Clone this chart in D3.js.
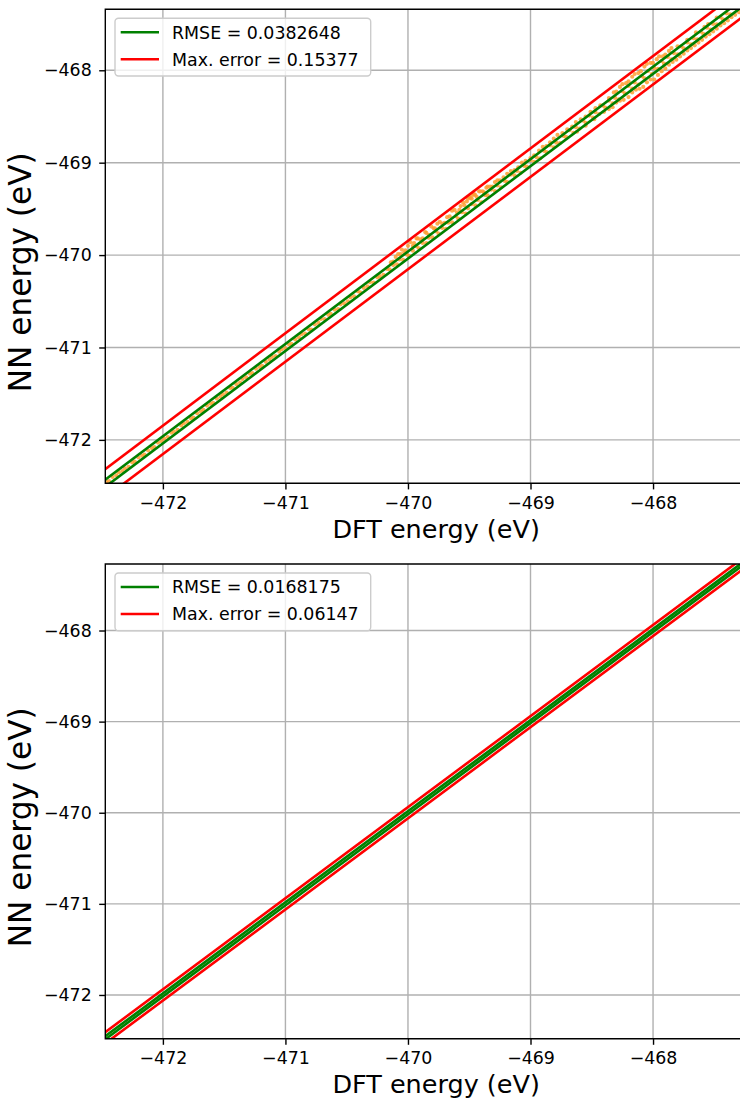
<!DOCTYPE html>
<html>
<head>
<meta charset="utf-8">
<script src="https://cdn.jsdelivr.net/npm/d3@7"></script>
<style>
  html, body { margin: 0; padding: 0; background: #fff; }
  svg { display: block; }
  text { font-family: "DejaVu Sans", sans-serif; fill: #000; }
</style>
</head>
<body>
<svg id="chart" width="740" height="1101"></svg>
<script>
// Energy-parity plots: NN-predicted vs DFT energies with RMSE and max-error bands.

const xTicks = [-472, -471, -470, -469, -468];
const yTicks = [-472, -471, -470, -469, -468];

// Training-set structures that sit close to the parity line (DFT energy, NN - DFT)
const coreDft = [
  -472.46, -472.44, -472.41, -472.38, -472.36, -472.33, -472.31, -472.28, -472.25, -472.23,
  -472.20, -472.17, -472.15, -472.12, -472.09, -472.07, -472.04, -472.01, -471.99, -471.96,
  -471.93, -471.91, -471.88, -471.85, -471.83, -471.80, -471.77, -471.75, -471.72, -471.69,
  -471.67, -471.64, -471.61, -471.59, -471.56, -471.53, -471.51, -471.48, -471.45, -471.43,
  -471.40, -471.37, -471.35, -471.32, -471.29, -471.27, -471.24, -471.21, -471.19, -471.16,
  -471.13, -471.11, -471.08, -471.05, -471.03, -471.00, -470.97, -470.95, -470.92, -470.89,
  -470.87, -470.84, -470.81, -470.79, -470.76, -470.73, -470.71, -470.68, -470.65, -470.63,
  -470.60, -470.57, -470.55, -470.52, -470.49, -470.47, -470.44, -470.41, -470.39, -470.36,
  -470.33, -470.31, -470.28, -470.25, -470.23, -470.20, -470.17, -470.15, -470.12, -470.09,
  -470.07, -470.04, -470.01, -469.99, -469.96, -469.93, -469.91, -469.88, -469.85, -469.83,
  -469.80, -469.77, -469.75, -469.72, -469.69, -469.67, -469.64, -469.61, -469.59, -469.56,
  -469.53, -469.51, -469.48, -469.45, -469.43, -469.40, -469.37, -469.35, -469.32, -469.29,
  -469.27, -469.24, -469.21, -469.19, -469.16, -469.13, -469.11, -469.08, -469.05, -469.03,
  -469.00, -468.97, -468.95, -468.92, -468.89, -468.87, -468.84, -468.81, -468.79, -468.76,
  -468.73, -468.71, -468.68, -468.65, -468.63, -468.60, -468.57, -468.55, -468.52, -468.49,
  -468.47, -468.44, -468.41, -468.39, -468.36, -468.33, -468.31, -468.28, -468.25, -468.23,
  -468.20, -468.17, -468.15, -468.12, -468.09, -468.07, -468.04, -468.01, -467.99, -467.96,
  -467.93, -467.91, -467.88, -467.85, -467.83, -467.80, -467.77, -467.75, -467.72, -467.69,
  -467.67, -467.64, -467.61, -467.59, -467.56, -467.53, -467.51, -467.48, -467.45, -467.43,
  -467.40, -467.37, -467.35, -467.32, -467.29, -467.27, -467.24, -467.21
];
const coreErr = [
  0.004, -0.006, 0.008, -0.003, 0.010, -0.008, 0.002, -0.011, 0.006, -0.004,
  0.009, -0.002, -0.010, 0.005, 0.001, -0.007, 0.011, -0.005, 0.003, -0.009,
  0.007, -0.001, -0.012, 0.006, 0.010, -0.006, 0.002, -0.009, 0.008, -0.003,
  -0.005, 0.011, 0.001, -0.010, 0.007, -0.002, 0.004, -0.008, 0.012, -0.006,
  0.003, -0.011, 0.009, -0.004, 0.006, -0.007, 0.010, 0.000, -0.009, 0.005,
  -0.003, 0.008, -0.012, 0.004, 0.011, -0.006, 0.002, -0.010, 0.007, -0.001,
  0.014, -0.009, 0.006, -0.016, 0.011, -0.004, 0.018, -0.012, 0.003, -0.007,
  0.010, -0.015, 0.017, -0.002, -0.011, 0.013, -0.006, 0.019, -0.013, 0.005,
  -0.008, 0.016, -0.018, 0.009, 0.002, -0.014, 0.020, -0.005, 0.012, -0.010,
  0.022, -0.012, 0.015, -0.019, 0.008, 0.025, -0.016, 0.011, -0.021, 0.018,
  -0.009, 0.027, -0.018, 0.013, -0.025, 0.020, -0.006, 0.030, -0.014, 0.024,
  -0.020, 0.016, 0.032, -0.011, 0.026, -0.028, 0.019, -0.004, 0.029, -0.017,
  0.023, -0.026, 0.012, -0.019, 0.031, -0.008, 0.021, -0.030, 0.015, -0.012,
  0.027, -0.021, 0.009, -0.032, 0.018, -0.015, 0.028, -0.024, 0.006, -0.029,
  0.020, -0.011, 0.033, -0.026, 0.014, -0.031, 0.025, -0.018, 0.030, -0.022,
  0.017, -0.033, 0.028, -0.014, 0.032, -0.027, 0.011, -0.035, 0.024, -0.020,
  0.030, -0.028, 0.019, -0.034, 0.026, -0.016, 0.033, -0.030, 0.013, -0.025,
  0.031, -0.019, 0.024, -0.032, 0.016, -0.027, 0.029, -0.012, 0.022, -0.030,
  0.018, -0.024, 0.027, -0.015, 0.021, -0.029, 0.012, -0.022, 0.026, -0.018,
  0.016, -0.026, 0.023, -0.013, 0.020, -0.021, 0.010, -0.017
];

// Structures with larger prediction errors (DFT energy, NN - DFT)
const outlierDft = [
  -470.14, -470.12, -470.10, -470.08, -470.06, -470.05, -470.03, -470.02, -470.00, -469.98,
  -469.96, -469.95, -469.93, -469.92, -469.90, -469.88, -469.86, -469.85, -469.83, -469.81,
  -469.79, -469.78, -469.76, -469.74, -469.72, -469.70, -469.68, -469.66, -469.64, -469.62,
  -469.60, -469.58, -469.57, -469.55, -469.54, -469.52, -469.51, -469.50, -469.49, -469.48,
  -469.47, -469.46, -469.45, -469.44, -469.42, -469.41, -469.39, -469.38, -469.36, -469.35,
  -469.33, -469.31, -469.29, -469.27, -469.25, -469.22, -469.19, -469.16, -469.13, -469.10,
  -469.07, -469.04, -469.00, -468.97, -468.93, -468.90, -468.87, -468.84, -468.81, -468.78,
  -468.74, -468.70, -468.66, -468.63, -468.59, -468.55, -468.51, -468.47, -468.43,
  -468.36, -468.32, -468.30, -468.27, -468.25, -468.22, -468.20, -468.17, -468.15, -468.12,
  -468.10, -468.07, -468.05, -468.02, -468.00, -467.97, -467.95, -467.92, -467.90, -467.87,
  -467.85, -467.80, -467.72, -467.65, -467.58, -467.55, -467.48,
  -468.62, -468.55, -468.48, -468.40, -468.36, -468.33, -468.30, -468.27, -468.24, -468.20,
  -468.17, -468.14, -468.11, -468.08, -468.05, -468.02, -467.99, -467.96, -467.93, -467.90,
  -467.87, -467.84, -467.81, -467.78, -467.75, -467.72, -467.69, -467.66, -467.63, -467.60,
  -467.57, -467.54, -467.51, -467.48, -467.45, -467.42, -467.39, -467.36, -467.33, -467.30,
  -467.27, -467.24, -467.21
];
const outlierErr = [
  0.06, 0.05, 0.08, 0.09, 0.07, 0.11, 0.06, 0.07, 0.10, 0.12,
  0.06, 0.08, 0.11, 0.10, 0.07, 0.06, 0.11, 0.09, 0.05, 0.12,
  0.08, 0.07, 0.10, 0.10, 0.06, 0.05, 0.09, 0.08, 0.12, 0.11,
  0.06, 0.07, 0.10, 0.12, 0.08, 0.10, 0.12, 0.13, 0.11, 0.09,
  0.12, 0.12, 0.10, 0.07, 0.11, 0.10, 0.08, 0.06, 0.09, 0.09,
  0.07, 0.05, 0.08, 0.08, 0.06, 0.06, 0.07, 0.07, 0.05, 0.05,
  0.07, 0.06, 0.05, 0.05, 0.06, 0.07, 0.05, 0.06, 0.07, 0.08,
  0.06, 0.06, 0.05, 0.07, 0.06, 0.05, 0.06, 0.06, 0.05,
  0.06, 0.08, 0.07, 0.09, 0.10, 0.08, 0.08, 0.10, 0.11, 0.09,
  0.09, 0.11, 0.12, 0.10, 0.08, 0.09, 0.10, 0.07, 0.07, 0.08,
  0.09, 0.06, 0.05, 0.06, 0.05, 0.05, 0.05,
  -0.045, -0.05, -0.05, -0.05, -0.06, -0.07, -0.05, -0.06, -0.08, -0.09,
  -0.07, -0.07, -0.09, -0.10, -0.08, -0.08, -0.11, -0.09, -0.08, -0.08,
  -0.07, -0.07, -0.075, -0.07, -0.07, -0.065, -0.07, -0.07, -0.07, -0.07,
  -0.065, -0.07, -0.07, -0.07, -0.065, -0.07, -0.07, -0.065, -0.07, -0.07,
  -0.07, -0.07, -0.07
];

// Error statistics per model, as printed in each legend
const rmseValues = [0.0382648, 0.0168175];
const maxErrorValues = [0.15377, 0.06147];
const rmseLabels = ["RMSE = 0.0382648", "RMSE = 0.0168175"];
const maxErrorLabels = ["Max. error = 0.15377", "Max. error = 0.06147"];

const xDomain = [-472.47, -467.07];
const yDomains = [[-472.47, -467.34], [-472.48, -467.27]];

const svg = d3.select("#chart");

const panels = [
  { top: 9.3, bottom: 483.3, showPoints: true, xLabelY: 538 },
  { top: 564, bottom: 1038.7, showPoints: false, xLabelY: 1093 }
];
const left = 105.3, right = 767;
const tickFont = 17.4;

panels.forEach((p, i) => {
  const x = d3.scaleLinear().domain(xDomain).range([left, right]);
  const y = d3.scaleLinear().domain(yDomains[i]).range([p.bottom, p.top]);
  const g = svg.append("g");

  const clipId = "clip" + i;
  g.append("clipPath").attr("id", clipId)
    .append("rect").attr("x", left).attr("y", p.top)
    .attr("width", right - left).attr("height", p.bottom - p.top);

  // grid
  const grid = g.append("g").attr("stroke", "#b0b0b0").attr("stroke-width", 1.4);
  grid.selectAll(".vx").data(xTicks).join("line")
    .attr("x1", d => x(d)).attr("x2", d => x(d))
    .attr("y1", p.top).attr("y2", p.bottom);
  grid.selectAll(".hy").data(yTicks).join("line")
    .attr("y1", d => y(d)).attr("y2", d => y(d))
    .attr("x1", left).attr("x2", right);

  const plot = g.append("g").attr("clip-path", `url(#${clipId})`);

  if (p.showPoints) {
    const pts = coreDft.map((d, k) => [d, d + coreErr[k]])
      .concat(outlierDft.map((d, k) => [d, d + outlierErr[k]]));
    plot.append("g").selectAll("circle").data(pts).join("circle")
      .attr("cx", d => x(d[0])).attr("cy", d => y(d[1]))
      .attr("r", 2.1)
      .attr("fill", "#ff9d33").attr("fill-opacity", 0.85);
  }

  const band = (off, color) => {
    const line = d3.line().x(d => x(d)).y(d => y(d + off));
    plot.append("path")
      .attr("d", line([xDomain[0] - 1, xDomain[1] + 1]))
      .attr("fill", "none").attr("stroke", color).attr("stroke-width", 2.6);
  };
  band(rmseValues[i], "#008000");
  band(-rmseValues[i], "#008000");
  band(maxErrorValues[i], "#ff0000");
  band(-maxErrorValues[i], "#ff0000");

  // axes
  const xAxis = d3.axisBottom(x).tickValues(xTicks).tickSize(6.1).tickPadding(7)
    .tickFormat(d3.format("d"));
  const yAxis = d3.axisLeft(y).tickValues(yTicks).tickSize(6.1).tickPadding(7.5)
    .tickFormat(d3.format("d"));
  const xa = g.append("g").attr("transform", `translate(0,${p.bottom})`).call(xAxis);
  const ya = g.append("g").attr("transform", `translate(${left},0)`).call(yAxis);
  [xa, ya].forEach(a => {
    a.select(".domain").remove();
    a.selectAll(".tick line").attr("stroke", "#000").attr("stroke-width", 1.4);
    a.selectAll(".tick text").attr("font-size", tickFont)
      .attr("font-family", "DejaVu Sans").attr("fill", "#000");
  });

  // spines (left, top, bottom)
  g.append("path")
    .attr("d", `M${right},${p.top}H${left}V${p.bottom}H${right}`)
    .attr("fill", "none").attr("stroke", "#000").attr("stroke-width", 1.4);

  // axis labels
  g.append("text").attr("x", (left + right) / 2).attr("y", p.xLabelY)
    .attr("text-anchor", "middle").attr("font-size", 25.5)
    .text("DFT energy (eV)");
  g.append("text")
    .attr("transform", `translate(31,${(p.top + p.bottom) / 2 + 26}) rotate(-90)`)
    .attr("text-anchor", "middle").attr("font-size", 31.2)
    .text("NN energy (eV)");

  // legend
  const lg = g.append("g").attr("transform", `translate(115,${p.top + 9})`);
  lg.append("rect").attr("x", 0).attr("y", 0).attr("width", 255.7).attr("height", 57.7)
    .attr("rx", 3.5).attr("fill", "#fff").attr("fill-opacity", 0.8)
    .attr("stroke", "#cccccc").attr("stroke-width", 1.4);
  const entries = [[rmseLabels[i], "#008000"], [maxErrorLabels[i], "#ff0000"]];
  entries.forEach(([label, color], k) => {
    const cy = 14 + k * 27;
    lg.append("line").attr("x1", 5.7).attr("x2", 44).attr("y1", cy).attr("y2", cy)
      .attr("stroke", color).attr("stroke-width", 2.6);
    lg.append("text").attr("x", 57).attr("y", cy + 6.3)
      .attr("font-size", 17.4).text(label);
  });
});
</script>
</body>
</html>
